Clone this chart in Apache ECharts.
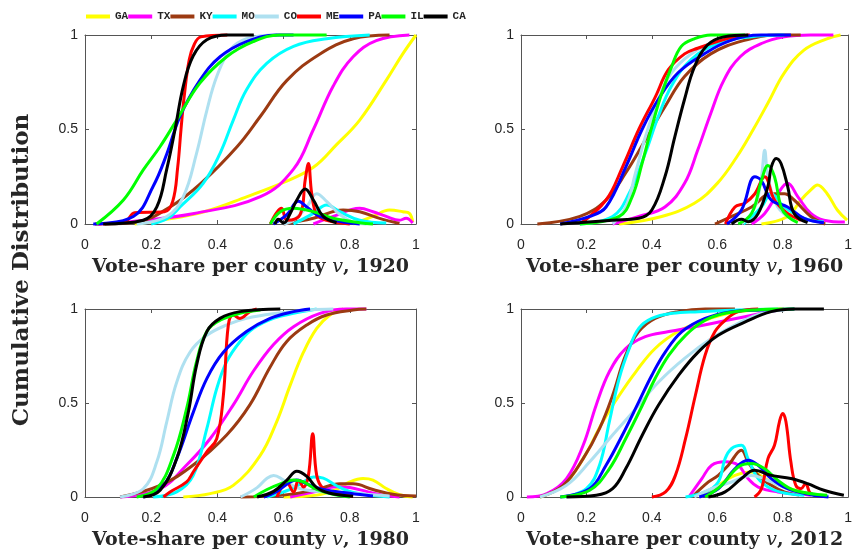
<!DOCTYPE html>
<html><head><meta charset="utf-8">
<script src="https://cdn.jsdelivr.net/npm/echarts@6/dist/echarts.min.js"></script>
<style>html,body{margin:0;padding:0;background:#fff}#c{width:855px;height:552px}</style>
</head><body><div id="c"></div>
<script>
const states = ['GA','TX','KY','MO','CO','ME','PA','IL','CA'];
const years = ['1920','1960','1980','2012'];

// ---- 1920 ----
const cdf1920 = {
  GA: [[0.15,0],[0.23,0.02],[0.36,0.065],[0.49,0.145],[0.6,0.22],[0.69,0.3],[0.76,0.42],[0.83,0.55],[0.91,0.76],[0.96,0.9],[1,1]],
  TX: [[0.04,0],[0.126,0.01],[0.33,0.056],[0.53,0.145],[0.63,0.29],[0.69,0.5],[0.75,0.73],[0.81,0.885],[0.88,0.97],[0.98,1]],
  KY: [[0.06,0],[0.156,0.01],[0.257,0.09],[0.35,0.215],[0.46,0.41],[0.53,0.57],[0.61,0.76],[0.71,0.9],[0.81,0.98],[0.92,1]],
  MO: [[0.2,0],[0.25,0.03],[0.287,0.09],[0.357,0.215],[0.408,0.374],[0.448,0.55],[0.488,0.71],[0.549,0.85],[0.63,0.94],[0.73,0.98],[0.86,1]],
  CO: [[0.156,0],[0.247,0.04],[0.297,0.145],[0.337,0.374],[0.368,0.6],[0.398,0.78],[0.438,0.92],[0.488,0.98],[0.58,1]],
  ME: [[0.03,0],[0.12,0.01],[0.15,0.06],[0.24,0.065],[0.265,0.12],[0.28,0.3],[0.29,0.5],[0.3,0.68],[0.315,0.87],[0.33,0.95],[0.35,0.99],[0.43,1]],
  PA: [[0.025,0],[0.146,0.04],[0.206,0.2],[0.247,0.37],[0.287,0.57],[0.347,0.76],[0.408,0.885],[0.488,0.965],[0.58,1],[0.63,1]],
  IL: [[0.035,0],[0.116,0.127],[0.176,0.286],[0.227,0.41],[0.277,0.55],[0.347,0.745],[0.428,0.885],[0.508,0.965],[0.589,1],[0.73,1]],
  CA: [[0.055,0],[0.176,0.02],[0.217,0.09],[0.247,0.29],[0.272,0.5],[0.297,0.73],[0.327,0.89],[0.368,0.975],[0.43,1],[0.51,1]]
};
const pdf1920 = {
  GA: [[0.81,0],[0.87,0.04],[0.92,0.074],[0.96,0.065],[0.98,0.056],[0.99,0.01]],
  TX: [[0.69,0],[0.75,0.04],[0.83,0.083],[0.87,0.065],[0.91,0.04],[0.95,0.02],[0.97,0.03],[0.99,0.005]],
  KY: [[0.6,0],[0.69,0.03],[0.78,0.074],[0.83,0.065],[0.89,0.03],[0.95,0.003]],
  MO: [[0.63,0],[0.69,0.056],[0.73,0.1],[0.77,0.065],[0.83,0.02],[0.91,0.005]],
  CO: [[0.6,0],[0.63,0.02],[0.67,0.09],[0.7,0.16],[0.73,0.12],[0.77,0.05],[0.81,0.01],[0.85,0]],
  ME: [[0.56,0],[0.594,0.083],[0.61,0.02],[0.65,0.05],[0.665,0.23],[0.675,0.32],[0.685,0.16],[0.7,0.05],[0.73,0.02],[0.8,0]],
  PA: [[0.569,0],[0.61,0.05],[0.645,0.12],[0.67,0.09],[0.71,0.04],[0.78,0.01],[0.83,0]],
  IL: [[0.56,0],[0.59,0.065],[0.63,0.083],[0.69,0.065],[0.75,0.03],[0.83,0.007],[0.87,0]],
  CA: [[0.574,0],[0.584,0.025],[0.6,0.005],[0.62,0.056],[0.64,0.127],[0.665,0.185],[0.69,0.127],[0.72,0.04],[0.76,0.007]]
};

// ---- 1960 ----
const cdf1960 = {
  GA: [[0.3,0],[0.43,0.04],[0.53,0.11],[0.6,0.215],[0.66,0.356],[0.71,0.5],[0.755,0.64],[0.805,0.8],[0.865,0.92],[0.935,0.98],[0.977,1]],
  TX: [[0.28,0],[0.36,0.04],[0.44,0.09],[0.5,0.215],[0.54,0.39],[0.58,0.585],[0.62,0.76],[0.67,0.885],[0.735,0.955],[0.805,0.99],[0.885,1],[0.955,1]],
  KY: [[0.05,0],[0.18,0.04],[0.26,0.127],[0.32,0.27],[0.38,0.444],[0.44,0.62],[0.5,0.78],[0.58,0.9],[0.68,0.97],[0.785,1],[0.855,1]],
  MO: [[0.18,0],[0.28,0.04],[0.33,0.16],[0.38,0.374],[0.42,0.57],[0.46,0.73],[0.52,0.87],[0.6,0.955],[0.7,0.99],[0.805,1]],
  CO: [[0.28,0],[0.32,0.09],[0.35,0.27],[0.38,0.46],[0.42,0.66],[0.46,0.8],[0.52,0.9],[0.6,0.97],[0.685,1]],
  ME: [[0.18,0],[0.26,0.127],[0.31,0.3],[0.36,0.5],[0.41,0.67],[0.45,0.815],[0.5,0.9],[0.54,0.93],[0.6,0.965],[0.655,0.99],[0.7,1]],
  PA: [[0.12,0],[0.21,0.04],[0.26,0.09],[0.32,0.3],[0.37,0.5],[0.42,0.66],[0.48,0.8],[0.56,0.9],[0.64,0.97],[0.735,1],[0.825,1]],
  IL: [[0.18,0],[0.3,0.04],[0.34,0.145],[0.37,0.32],[0.4,0.515],[0.43,0.69],[0.46,0.83],[0.49,0.94],[0.53,0.98],[0.58,1],[0.685,1]],
  CA: [[0.12,0],[0.28,0.02],[0.36,0.03],[0.4,0.074],[0.44,0.25],[0.47,0.46],[0.5,0.66],[0.53,0.83],[0.57,0.947],[0.62,0.99],[0.695,1]]
};
const pdf1960 = {
  GA: [[0.735,0],[0.815,0.04],[0.856,0.127],[0.886,0.18],[0.906,0.206],[0.936,0.16],[0.967,0.074],[0.997,0.02]],
  TX: [[0.705,0],[0.745,0.056],[0.785,0.16],[0.815,0.215],[0.846,0.145],[0.886,0.056],[0.926,0.02],[0.99,0.01]],
  KY: [[0.593,0],[0.644,0.04],[0.705,0.09],[0.765,0.16],[0.805,0.16],[0.835,0.127],[0.886,0.04],[0.93,0]],
  MO: [[0.68,0],[0.735,0.09],[0.765,0.16],[0.805,0.09],[0.866,0.03],[0.926,0.01]],
  CO: [[0.675,0],[0.715,0.09],[0.735,0.25],[0.745,0.39],[0.755,0.25],[0.785,0.09],[0.835,0.02]],
  ME: [[0.625,0],[0.654,0.09],[0.684,0.11],[0.715,0.16],[0.745,0.25],[0.775,0.127],[0.815,0.056],[0.856,0.02]],
  PA: [[0.63,0],[0.674,0.074],[0.715,0.25],[0.735,0.23],[0.765,0.127],[0.815,0.09],[0.866,0.03],[0.926,0.007]],
  IL: [[0.664,0],[0.705,0.056],[0.735,0.23],[0.755,0.31],[0.775,0.25],[0.795,0.09],[0.815,0.04],[0.846,0.007]],
  CA: [[0.644,0],[0.674,0.025],[0.694,0.012],[0.725,0.056],[0.755,0.2],[0.765,0.3],[0.78,0.347],[0.795,0.32],[0.815,0.2],[0.835,0.056],[0.876,0.007]]
};

// ---- 1980 ----
const cdf1980 = {
  GA: [[0.297,0],[0.378,0.018],[0.448,0.062],[0.529,0.22],[0.579,0.4],[0.62,0.595],[0.66,0.77],[0.7,0.897],[0.74,0.968],[0.78,1]],
  TX: [[0.106,0],[0.227,0.044],[0.307,0.17],[0.378,0.31],[0.448,0.49],[0.509,0.67],[0.569,0.81],[0.63,0.906],[0.71,0.977],[0.79,1],[0.85,1]],
  KY: [[0.106,0],[0.227,0.062],[0.327,0.17],[0.428,0.33],[0.498,0.49],[0.559,0.69],[0.609,0.826],[0.67,0.915],[0.73,0.968],[0.81,0.995],[0.85,1]],
  MO: [[0.206,0],[0.277,0.027],[0.327,0.115],[0.368,0.364],[0.398,0.577],[0.428,0.72],[0.468,0.826],[0.509,0.897],[0.569,0.95],[0.63,0.977],[0.7,1]],
  CO: [[0.106,0],[0.176,0.044],[0.217,0.187],[0.247,0.4],[0.277,0.61],[0.317,0.77],[0.368,0.86],[0.428,0.915],[0.488,0.95],[0.58,0.977],[0.68,0.995],[0.75,1]],
  ME: [[0.237,0],[0.257,0.027],[0.307,0.08],[0.327,0.133],[0.368,0.24],[0.398,0.31],[0.418,0.54],[0.433,0.915],[0.448,0.968],[0.468,0.95],[0.498,0.986],[0.519,1]],
  PA: [[0.176,0],[0.237,0.062],[0.277,0.204],[0.327,0.45],[0.368,0.63],[0.418,0.77],[0.488,0.88],[0.559,0.95],[0.63,0.986],[0.68,1]],
  IL: [[0.156,0],[0.217,0.044],[0.267,0.22],[0.307,0.47],[0.337,0.72],[0.368,0.88],[0.408,0.94],[0.468,0.977],[0.53,0.995]],
  CA: [[0.176,0],[0.227,0.036],[0.277,0.204],[0.312,0.45],[0.337,0.7],[0.368,0.88],[0.408,0.95],[0.468,0.986],[0.59,1]]
};
const pdf1980 = {
  GA: [[0.6,0],[0.7,0.01],[0.76,0.04],[0.8,0.08],[0.84,0.098],[0.87,0.09],[0.91,0.045],[0.95,0.012],[0.99,0]],
  TX: [[0.62,0],[0.7,0.03],[0.76,0.055],[0.8,0.05],[0.85,0.03],[0.9,0.01],[0.95,0]],
  KY: [[0.47,0],[0.6,0.01],[0.7,0.04],[0.77,0.07],[0.81,0.07],[0.87,0.04],[0.93,0.015],[1,0.005]],
  MO: [[0.55,0],[0.62,0.04],[0.66,0.08],[0.69,0.107],[0.72,0.1],[0.76,0.06],[0.8,0.03],[0.86,0.01],[0.92,0]],
  CO: [[0.47,0],[0.52,0.05],[0.55,0.1],[0.57,0.115],[0.6,0.09],[0.64,0.05],[0.7,0.03],[0.8,0.02],[0.92,0.005]],
  ME: [[0.58,0],[0.609,0.08],[0.63,0.027],[0.645,0.089],[0.66,0.053],[0.675,0.115],[0.688,0.337],[0.7,0.115],[0.72,0.044],[0.76,0.018],[0.81,0.004]],
  PA: [[0.54,0],[0.58,0.03],[0.62,0.08],[0.64,0.09],[0.67,0.07],[0.72,0.04],[0.8,0.02],[0.87,0.005]],
  IL: [[0.51,0],[0.55,0.04],[0.59,0.07],[0.63,0.09],[0.66,0.08],[0.7,0.04],[0.76,0.01],[0.8,0]],
  CA: [[0.52,0],[0.57,0.03],[0.61,0.09],[0.64,0.137],[0.67,0.11],[0.7,0.05],[0.74,0.02],[0.81,0.004]]
};

// ---- 2012 ----
const cdf2012 = {
  GA: [[0.058,0],[0.129,0.062],[0.19,0.204],[0.25,0.4],[0.3,0.54],[0.351,0.666],[0.41,0.79],[0.48,0.88],[0.563,0.94],[0.634,0.977],[0.714,0.995],[0.8,1]],
  TX: [[0.018,0],[0.079,0.018],[0.139,0.098],[0.19,0.275],[0.23,0.49],[0.27,0.666],[0.32,0.79],[0.38,0.853],[0.452,0.88],[0.533,0.906],[0.634,0.941],[0.735,0.977],[0.805,1]],
  KY: [[0.058,0],[0.129,0.062],[0.19,0.204],[0.24,0.364],[0.28,0.54],[0.32,0.755],[0.36,0.88],[0.41,0.95],[0.48,0.986],[0.563,1],[0.654,1]],
  MO: [[0.129,0],[0.2,0.044],[0.24,0.169],[0.27,0.4],[0.3,0.63],[0.331,0.79],[0.36,0.897],[0.4,0.95],[0.462,0.977],[0.543,0.986],[0.664,0.995],[0.785,1]],
  CO: [[0.058,0],[0.139,0.062],[0.21,0.187],[0.28,0.33],[0.351,0.47],[0.42,0.61],[0.5,0.737],[0.583,0.844],[0.664,0.924],[0.735,0.977],[0.805,0.995]],
  ME: [[0.4,0],[0.442,0.027],[0.472,0.115],[0.503,0.31],[0.533,0.54],[0.563,0.755],[0.593,0.88],[0.624,0.94],[0.664,0.986],[0.725,1]],
  PA: [[0.12,0],[0.21,0.044],[0.26,0.169],[0.31,0.33],[0.36,0.506],[0.4,0.648],[0.442,0.773],[0.492,0.88],[0.563,0.95],[0.644,0.986],[0.735,0.995],[0.836,1]],
  IL: [[0.12,0],[0.21,0.036],[0.27,0.15],[0.32,0.31],[0.371,0.488],[0.41,0.63],[0.452,0.755],[0.503,0.86],[0.563,0.94],[0.624,0.977],[0.714,0.995],[0.836,1]],
  CA: [[0.139,0],[0.23,0.009],[0.28,0.044],[0.32,0.15],[0.371,0.33],[0.42,0.488],[0.482,0.648],[0.543,0.773],[0.603,0.86],[0.684,0.93],[0.765,0.986],[0.836,1],[0.926,1]]
};
const pdf2012 = {
  GA: [[0.55,0],[0.603,0.062],[0.654,0.115],[0.704,0.133],[0.755,0.089],[0.805,0.053],[0.856,0.027],[0.9,0.01]],
  TX: [[0.513,0],[0.553,0.098],[0.583,0.169],[0.624,0.187],[0.664,0.169],[0.694,0.098],[0.725,0.053],[0.785,0.027],[0.846,0.018],[0.886,0.009]],
  KY: [[0.523,0],[0.573,0.08],[0.603,0.115],[0.634,0.169],[0.674,0.249],[0.694,0.187],[0.725,0.115],[0.765,0.062],[0.805,0.027],[0.85,0.01]],
  MO: [[0.503,0],[0.563,0.027],[0.603,0.08],[0.624,0.204],[0.644,0.258],[0.674,0.275],[0.694,0.204],[0.725,0.098],[0.765,0.044],[0.815,0.018],[0.866,0.009]],
  CO: [[0.53,0],[0.583,0.044],[0.644,0.08],[0.704,0.115],[0.765,0.08],[0.825,0.036],[0.886,0.018],[0.94,0.005]],
  ME: [[0.714,0],[0.735,0.044],[0.755,0.204],[0.775,0.275],[0.79,0.4],[0.8,0.444],[0.81,0.4],[0.825,0.187],[0.84,0.062],[0.856,0.044],[0.87,0.071],[0.886,0.018],[0.926,0.004]],
  PA: [[0.545,0],[0.603,0.044],[0.654,0.15],[0.694,0.195],[0.725,0.169],[0.765,0.098],[0.815,0.044],[0.886,0.012],[0.94,0]],
  IL: [[0.563,0],[0.613,0.062],[0.664,0.16],[0.704,0.178],[0.745,0.15],[0.785,0.089],[0.836,0.036],[0.936,0.009]],
  CA: [[0.573,0],[0.624,0.027],[0.674,0.098],[0.714,0.142],[0.765,0.115],[0.825,0.098],[0.876,0.071],[0.926,0.036],[0.987,0.009]]
};

const cdfs = [cdf1920, cdf1960, cdf1980, cdf2012];
const pdfs = [pdf1920, pdf1960, pdf1980, pdf2012];

// ---- styles ----
const colors = {GA:'#ffff00', TX:'#ff00ff', KY:'#9c3a12', MO:'#00ffff', CO:'#aee0f0', ME:'#ff0000', PA:'#0000ff', IL:'#00ff00', CA:'#000000'};
const gridBoxes = [
  {left:85, top:35, width:331, height:189},
  {left:521, top:35, width:330, height:189},
  {left:85, top:309, width:331, height:188},
  {left:521, top:309, width:330, height:188}
];
const axisCol = '#555';
const labelFont = 'Liberation Sans';
const serif = 'DejaVu Serif';

const xAxes = [], yAxes = [], series = [];
gridBoxes.forEach((g, i) => {
  xAxes.push({
    type:'value', gridIndex:i, min:0, max:1, interval:0.2, position:'bottom',
    axisLine:{show:true, onZero:false, lineStyle:{color:axisCol, width:1}},
    axisTick:{show:true, inside:true, length:4, lineStyle:{color:axisCol}},
    axisLabel:{color:'#262626', fontSize:14, fontFamily:labelFont, margin:14},
    splitLine:{show:false},
    name:'{a|Vote-share per county }{b|v}{a|, ' + years[i] + '}',
    nameLocation:'middle', nameGap:34,
    nameTextStyle:{rich:{
      a:{fontFamily:serif, fontWeight:'bold', fontSize:19, color:'#262626'},
      b:{fontFamily:serif, fontStyle:'italic', fontSize:19, color:'#262626'}
    }}
  });
  xAxes.push({
    type:'value', gridIndex:i, min:0, max:1, interval:0.2, position:'top',
    axisLine:{show:true, onZero:false, lineStyle:{color:axisCol, width:1}},
    axisTick:{show:true, inside:true, length:4, lineStyle:{color:axisCol}},
    axisLabel:{show:false}, splitLine:{show:false}
  });
  yAxes.push({
    type:'value', gridIndex:i, min:0, max:1, interval:0.5, position:'left',
    axisLine:{show:true, onZero:false, lineStyle:{color:axisCol, width:1}},
    axisTick:{show:true, inside:true, length:4, lineStyle:{color:axisCol}},
    axisLabel:{color:'#262626', fontSize:14, fontFamily:labelFont, margin:7},
    splitLine:{show:false}
  });
  yAxes.push({
    type:'value', gridIndex:i, min:0, max:1, interval:0.5, position:'right',
    axisLine:{show:true, onZero:false, lineStyle:{color:axisCol, width:1}},
    axisTick:{show:true, inside:true, length:4, lineStyle:{color:axisCol}},
    axisLabel:{show:false}, splitLine:{show:false}
  });
  states.forEach(s => {
    [cdfs[i][s], pdfs[i][s]].forEach(d => {
      series.push({
        type:'line', name:s, xAxisIndex:2*i, yAxisIndex:2*i, data:d,
        smooth:0.4, showSymbol:false, symbol:'none', clip:false,
        lineStyle:{color:colors[s], width:3}, itemStyle:{color:colors[s]},
        emphasis:{disabled:true}
      });
    });
  });
});

const chart = echarts.init(document.getElementById('c'), null, {renderer:'canvas'});
chart.setOption({
  animation:false,
  backgroundColor:'#ffffff',
  grid: gridBoxes.map(g => Object.assign({containLabel:false}, g)),
  xAxis: xAxes,
  yAxis: yAxes,
  legend: {
    data: states, left:86, top:11, padding:0, itemWidth:24, itemHeight:4, itemGap:0, icon:'rect',
    textStyle:{fontFamily:'Liberation Mono', fontWeight:'bold', fontSize:11, color:'#262626'}
  },
  graphic: [{
    type:'text', x:22, y:270, rotation:Math.PI/2,
    style:{text:'Cumulative Distribution', fontFamily:serif, fontWeight:'bold', fontSize:23, fill:'#262626', align:'center', verticalAlign:'middle'}
  }],
  series: series
});
</script>
</body></html>
